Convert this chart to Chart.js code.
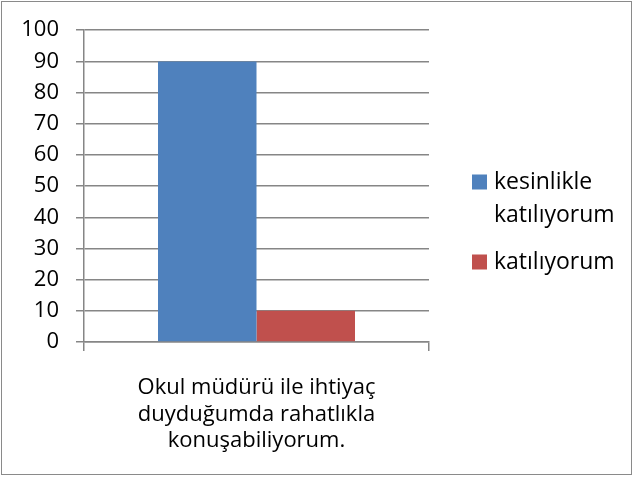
<!DOCTYPE html>
<html>
<head>
<meta charset="utf-8">
<script src="https://cdn.jsdelivr.net/npm/chart.js@4/dist/chart.umd.min.js"></script>
<style>
html,body{margin:0;padding:0;background:#fff;}
#wrap{width:634px;height:477px;position:relative;}
</style>
</head>
<body>
<div id="wrap"><canvas id="c" width="634" height="477"></canvas></div>
<script>
const categories = [["Okul müdürü ile ihtiyaç", "duyduğumda rahatlıkla", "konuşabiliyorum."]];
const seriesNames = ["kesinlikle katılıyorum", "katılıyorum"];
const kesinlikleValues = [90];
const katiliyorumValues = [10];
const yMin = 0, yMax = 100, yStep = 10;

const FONT = "'Open Sans', 'Liberation Sans', sans-serif";
const gridColor = '#868686';

const frame = {
  id: 'frame',
  beforeDraw(chart) {
    const ctx = chart.ctx;
    ctx.save();
    ctx.fillStyle = '#fff';
    ctx.fillRect(0, 0, chart.width, chart.height);
    ctx.strokeStyle = '#8a8a8a';
    ctx.lineWidth = 1;
    ctx.strokeRect(1.5, 1.5, chart.width - 4, chart.height - 4);
    ctx.restore();
  }
};

const sideLegend = {
  id: 'sideLegend',
  afterDraw(chart) {
    const ctx = chart.ctx;
    ctx.save();
    ctx.font = "23px " + FONT;
    ctx.textBaseline = 'middle';
    ctx.fillStyle = '#000';
    const boxX = 472, textX = 494, maxW = 132, lineH = 33, itemGap = 47;
    let y = 182;
    chart.data.datasets.forEach(ds => {
      const words = ds.label.split(' ');
      const lines = [];
      let cur = '';
      words.forEach(w => {
        const t = cur ? cur + ' ' + w : w;
        if (ctx.measureText(t).width > maxW && cur) { lines.push(cur); cur = w; } else cur = t;
      });
      if (cur) lines.push(cur);
      ctx.fillStyle = ds.backgroundColor;
      ctx.fillRect(boxX, y - 7.5, 15, 15);
      ctx.fillStyle = '#000';
      lines.forEach((l, i) => { ctx.fillText(l, textX, y + i * lineH); });
      y += (lines.length - 1) * lineH + itemGap;
    });
    ctx.restore();
  }
};

new Chart(document.getElementById('c'), {
  type: 'bar',
  data: {
    labels: categories,
    datasets: [
      { label: seriesNames[0], data: kesinlikleValues, backgroundColor: '#4F81BD', borderWidth: 0 },
      { label: seriesNames[1], data: katiliyorumValues, backgroundColor: '#C0504D', borderWidth: 0 }
    ]
  },
  options: {
    responsive: false,
    animation: false,
    devicePixelRatio: 1,
    layout: { padding: { top: 30, right: 205, bottom: 0, left: 0 } },
    plugins: { legend: { display: false }, tooltip: { enabled: false }, title: { display: false } },
    datasets: { bar: { barPercentage: 1, categoryPercentage: 0.571 } },
    scales: {
      x: {
        offset: true,
        grid: { display: true, offset: true, drawOnChartArea: false, drawTicks: true, tickLength: 9, color: gridColor, lineWidth: 1.5 },
        border: { display: true, color: gridColor, width: 1.5 },
        ticks: { color: '#000', font: { family: FONT, size: 22, lineHeight: 1.22 }, padding: 23, maxRotation: 0 },
        afterFit(s) { s.height = 135; }
      },
      y: {
        min: yMin, max: yMax,
        ticks: { stepSize: yStep, color: '#000', font: { family: FONT, size: 22 }, padding: 17 },
        grid: { color: gridColor, lineWidth: 1.5, tickLength: 8, drawTicks: true },
        border: { display: true, color: gridColor, width: 1.5 },
        afterFit(s) { s.width = 84; }
      }
    }
  },
  plugins: [frame, sideLegend]
});
</script>
</body>
</html>
